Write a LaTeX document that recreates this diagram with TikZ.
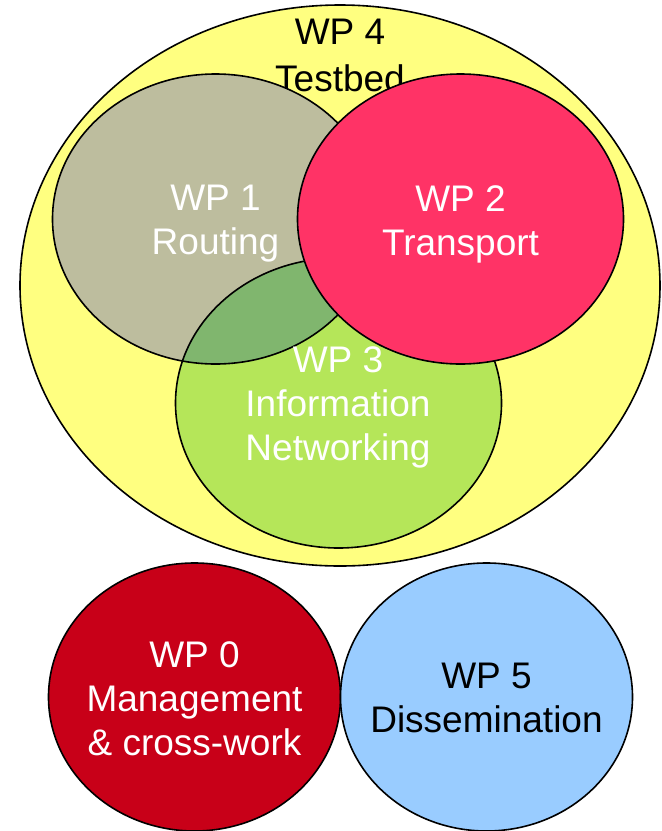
\documentclass[tikz,border=0pt]{standalone}
\usepackage{fontspec}
\setmainfont{Liberation Sans}

\definecolor{testbed}{HTML}{FFFF80}
\definecolor{routing}{HTML}{BDBD9E}
\definecolor{transport}{HTML}{FF3366}
\definecolor{infonet}{HTML}{B5E659}
\definecolor{overlap}{HTML}{80B66E}
\definecolor{management}{HTML}{C80018}
\definecolor{dissemination}{HTML}{99CCFF}

\begin{document}
\begin{tikzpicture}[
  x = 1pt, y = -1pt,
  every node/.style = {align = center, inner sep = 0pt, font = \fontsize{37}{44}\selectfont},
  wpline/.style = {draw = black, line width = 1.6pt},
  big/.style = {x radius = 320pt, y radius = 280.5pt},
  mid/.style = {x radius = 163pt, y radius = 145pt},
  small/.style = {x radius = 146pt, y radius = 134pt},
  ]
  \useasboundingbox (0,0) rectangle (662,831);
  \coordinate (wp4) at (340,285.5);
  \coordinate (wp1) at (215.5,219);
  \coordinate (wp2) at (460.5,219);
  \coordinate (wp3) at (338.5,403);
  \coordinate (wp0) at (194.5,697);
  \coordinate (wp5) at (486.5,697);

  \filldraw[wpline, fill = testbed] (wp4) ellipse [big];
  \node (wp4label) at (340,55.5) {WP 4\\[3pt]Testbed};

  \fill[routing] (wp1) ellipse [mid];
  \fill[infonet] (wp3) ellipse [mid];
  \begin{scope}
    \clip (wp1) ellipse [mid];
    \fill[overlap] (wp3) ellipse [mid];
  \end{scope}
  \draw[wpline] (wp1) ellipse [mid];
  \draw[wpline] (wp3) ellipse [mid];
  \filldraw[wpline, fill = transport] (wp2) ellipse [mid];

  \filldraw[wpline, fill = management] (wp0) ellipse [small];
  \filldraw[wpline, fill = dissemination] (wp5) ellipse [small];

  \node[text = white] (wp1label) at (215.5,224) {WP 1\\Routing};
  \node[text = white] (wp2label) at (460.5,224) {WP 2\\Transport};
  \node[text = white] (wp3label) at (338,407) {WP 3\\Information\\Networking};
  \node[text = white] (wp0label) at (194.5,699) {WP 0\\Management\\\& cross-work};
  \node (wp5label) at (486.5,698) {WP 5\\Dissemination};
\end{tikzpicture}
\end{document}
